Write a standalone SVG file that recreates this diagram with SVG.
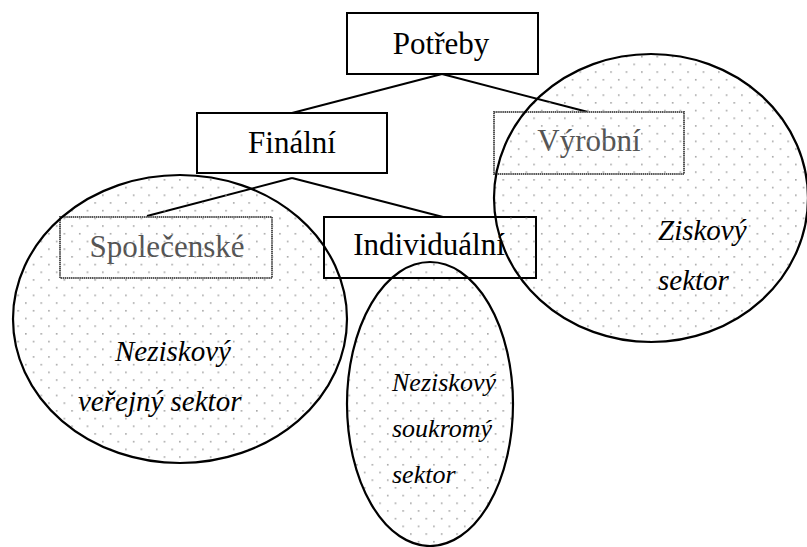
<svg xmlns="http://www.w3.org/2000/svg" width="807" height="547" viewBox="0 0 807 547">
  <style>
    .box { fill: #ffffff; stroke: #000000; stroke-width: 2; }
    .box.faded { stroke: #555555; stroke-dasharray: 1.5 0.6; }
    .label { font-family: "Liberation Serif", "Times New Roman", serif; font-size: 31px; fill: #000000; text-anchor: middle; }
    .label.faded { fill: #555555; }
    .sector { font-family: "Liberation Serif", "Times New Roman", serif; font-style: italic; font-size: 29px; fill: #000000; }
    .sector.small { font-size: 26px; }
    .conn { stroke: #000000; stroke-width: 2; fill: none; }
    .zone { fill: url(#dots); stroke: #000000; stroke-width: 2.2; }
  </style>
  <defs>
    <pattern id="dots" patternUnits="userSpaceOnUse" width="15.4" height="15.4">
      <rect x="2" y="2" width="1.5" height="1.5" fill="#999999"/>
      <rect x="9.7" y="9.7" width="1.5" height="1.5" fill="#999999"/>
    </pattern>
  </defs>

  <g id="connectors">
    <line class="conn" x1="442" y1="74" x2="292" y2="113"/>
    <line class="conn" x1="442" y1="74" x2="588" y2="112"/>
    <line class="conn" x1="292" y1="178" x2="147" y2="216"/>
    <line class="conn" x1="292" y1="178" x2="443" y2="217"/>
  </g>

  <g id="node-potreby">
    <rect class="box" x="347" y="13" width="191" height="61"/>
    <text class="label" x="441" y="54">Potřeby</text>
  </g>
  <g id="node-finalni">
    <rect class="box" x="197" y="113" width="190" height="60"/>
    <text class="label" x="292" y="153">Finální</text>
  </g>
  <g id="node-vyrobni">
    <rect class="box faded" x="494" y="112" width="190" height="62"/>
    <text class="label faded" x="589" y="151">Výrobní</text>
  </g>
  <g id="node-spolecenske">
    <rect class="box faded" x="60" y="217" width="212" height="61"/>
    <text class="label faded" x="167" y="257">Společenské</text>
  </g>
  <g id="node-individualni">
    <rect class="box" x="324" y="217" width="212" height="61"/>
    <text class="label" x="429" y="255">Individuální</text>
  </g>

  <g id="zone-verejny">
    <ellipse class="zone" cx="180" cy="319" rx="167" ry="144"/>
    <text class="sector" x="115" y="361">Neziskový</text>
    <text class="sector" x="78" y="411">veřejný sektor</text>
  </g>
  <g id="zone-soukromy">
    <ellipse class="zone" cx="430" cy="404" rx="83" ry="142"/>
    <text class="sector small" x="392" y="391">Neziskový</text>
    <text class="sector small" x="392" y="437">soukromý</text>
    <text class="sector small" x="392" y="483">sektor</text>
  </g>
  <g id="zone-ziskovy">
    <ellipse class="zone" cx="651" cy="198" rx="157" ry="144"/>
    <text class="sector" x="658" y="240">Ziskový</text>
    <text class="sector" x="658" y="290">sektor</text>
  </g>
</svg>
